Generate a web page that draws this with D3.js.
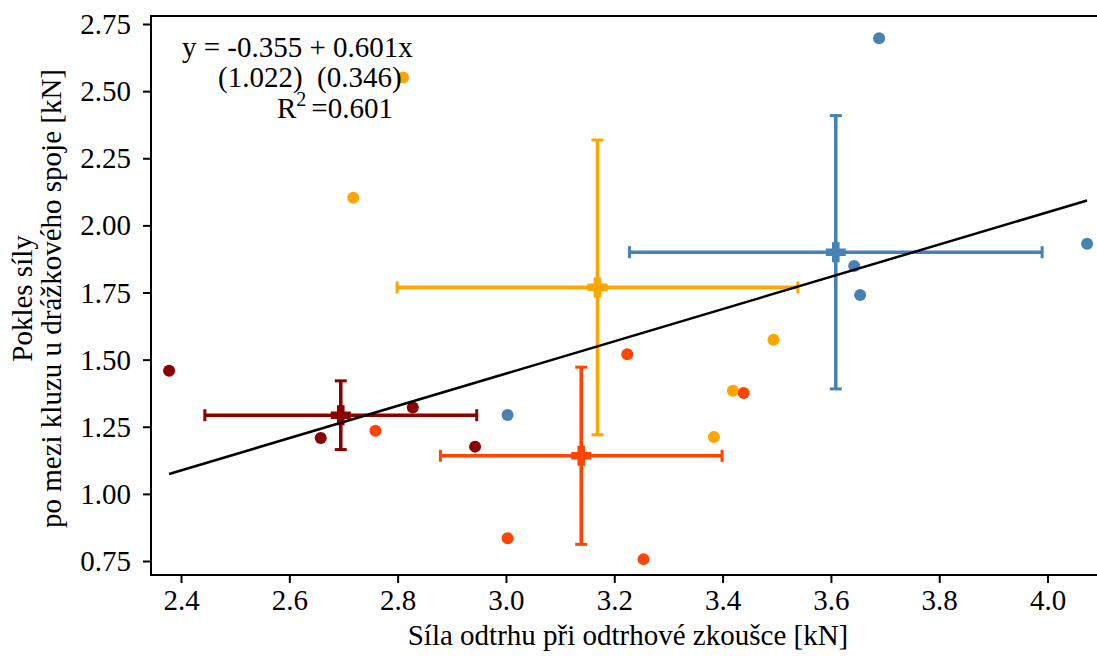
<!DOCTYPE html>
<html><head><meta charset="utf-8">
<script src="https://cdn.jsdelivr.net/npm/d3@7"></script>
<style>
body{margin:0;background:#fff;overflow:hidden}
text{font-family:"Liberation Serif","Times New Roman",serif}
</style>
</head><body>
<svg id="c" width="1097" height="660"></svg>
<script>
// ---- data ----
const groupColors = ["#4682B4", "#FFA500", "#FF4500", "#8B0000"];
const blueX   = [3.689, 4.073, 3.643, 3.654, 3.003];
const blueY   = [2.697, 1.932, 1.849, 1.741, 1.294];
const orangeX = [2.810, 2.718, 3.494, 3.419, 3.384];
const orangeY = [2.551, 2.103, 1.574, 1.384, 1.212];
const redX    = [3.224, 3.439, 2.759, 3.003, 3.254];
const redY    = [1.520, 1.376, 1.235, 0.835, 0.757];
const darkX   = [2.378, 2.828, 2.658, 2.943];
const darkY   = [1.459, 1.322, 1.208, 1.176];
const meanX = [3.609, 3.169, 3.139, 2.695];
const meanY = [1.900, 1.769, 1.142, 1.293];
const sdX   = [0.381, 0.370, 0.260, 0.251];
const sdY   = [0.509, 0.549, 0.330, 0.128];
const intercept = -0.355, slope = 0.601;
const eqLines = ["y = -0.355 + 0.601x", "(1.022)  (0.346)"];
const r2Text = "=0.601";
const xTicks = [2.4, 2.6, 2.8, 3.0, 3.2, 3.4, 3.6, 3.8, 4.0];
const yTicks = [0.75, 1.00, 1.25, 1.50, 1.75, 2.00, 2.25, 2.50, 2.75];
const xLabel = "Síla odtrhu při odtrhové zkoušce [kN]";
const yLabel = ["Pokles síly", "po mezi kluzu u drážkového spoje [kN]"];

const xs = [blueX, orangeX, redX, darkX];
const ys = [blueY, orangeY, redY, darkY];

// ---- layout ----
const L = 151, R = 1105, T = 16, B = 575;
const FS = 29;
const svg = d3.select("#c");
const x = d3.scaleLinear().domain([2.3446, 4.1061]).range([L, R]);
const y = d3.scaleLinear().domain([0.6979, 2.7798]).range([B, T]);

// axes
const xAxis = svg.append("g").attr("transform", `translate(0,${B})`)
  .call(d3.axisBottom(x).tickValues(xTicks).tickFormat(d3.format(".1f")).tickSize(8).tickSizeOuter(0));
const yAxis = svg.append("g").attr("transform", `translate(${L},0)`)
  .call(d3.axisLeft(y).tickValues(yTicks).tickFormat(d3.format(".2f")).tickSize(8).tickSizeOuter(0).tickPadding(12));
[xAxis, yAxis].forEach(g => {
  g.select(".domain").remove();
  g.selectAll(".tick line").attr("stroke", "#000").attr("stroke-width", 2);
  g.selectAll(".tick text").attr("fill", "#000").style("font-size", FS + "px")
    .style("font-family", '"Liberation Serif", serif');
});
xAxis.selectAll(".tick text").attr("y", 35).attr("dy", 0);
yAxis.selectAll(".tick text").attr("dy", "0.33em");

// frame
svg.append("rect").attr("x", L).attr("y", T).attr("width", R - L).attr("height", B - T)
  .attr("fill", "none").attr("stroke", "#000").attr("stroke-width", 2);

// groups
const cap = 6;
groupColors.forEach((col, i) => {
  const g = svg.append("g");
  g.selectAll("circle").data(d3.zip(xs[i], ys[i])).join("circle")
    .attr("cx", d => x(d[0])).attr("cy", d => y(d[1])).attr("r", 6).attr("fill", col);
  const mx = meanX[i], my = meanY[i], ex = sdX[i], ey = sdY[i];
  const eb = svg.append("g").attr("stroke", col).attr("stroke-width", 3.6).attr("fill", "none");
  eb.append("line").attr("x1", x(mx - ex)).attr("x2", x(mx + ex)).attr("y1", y(my)).attr("y2", y(my));
  eb.append("line").attr("x1", x(mx)).attr("x2", x(mx)).attr("y1", y(my - ey)).attr("y2", y(my + ey));
  eb.append("line").attr("x1", x(mx - ex)).attr("x2", x(mx - ex)).attr("y1", y(my) - cap).attr("y2", y(my) + cap).attr("stroke-width", 3);
  eb.append("line").attr("x1", x(mx + ex)).attr("x2", x(mx + ex)).attr("y1", y(my) - cap).attr("y2", y(my) + cap).attr("stroke-width", 3);
  eb.append("line").attr("x1", x(mx) - cap).attr("x2", x(mx) + cap).attr("y1", y(my - ey)).attr("y2", y(my - ey)).attr("stroke-width", 3);
  eb.append("line").attr("x1", x(mx) - cap).attr("x2", x(mx) + cap).attr("y1", y(my + ey)).attr("y2", y(my + ey)).attr("stroke-width", 3);
  // filled plus marker
  const h = 10, t = 3.8, cx = x(mx), cy = y(my);
  const p = `M${cx - t},${cy - h}H${cx + t}V${cy - t}H${cx + h}V${cy + t}H${cx + t}V${cy + h}H${cx - t}V${cy + t}H${cx - h}V${cy - t}H${cx - t}Z`;
  svg.append("path").attr("d", p).attr("fill", col);
});

// regression line
const allX = [].concat(...xs);
const x0 = d3.min(allX), x1 = d3.max(allX);
svg.append("line").attr("x1", x(x0)).attr("y1", y(intercept + slope * x0))
  .attr("x2", x(x1)).attr("y2", y(intercept + slope * x1))
  .attr("stroke", "#000").attr("stroke-width", 2.5);

// equation text
const eq = svg.append("g").style("font-size", FS + "px").attr("fill", "#000");
eq.append("text").attr("x", 182).attr("y", 57).text(eqLines[0]);
eq.append("text").attr("x", 218).attr("y", 87).attr("xml:space", "preserve").style("white-space", "pre").text(eqLines[1]);
const r2 = eq.append("text").attr("x", 277).attr("y", 118);
r2.append("tspan").text("R");
r2.append("tspan").attr("dy", -12).style("font-size", "20px").text("2");
r2.append("tspan").attr("dy", 12).attr("dx", 5).text(r2Text);

// axis labels
svg.append("text").attr("x", 628).attr("y", 645).attr("text-anchor", "middle")
  .style("font-size", FS + "px").text(xLabel);
const yl = svg.append("g").attr("transform", `translate(0,${(T + B) / 2 + 3}) rotate(-90)`);
yl.append("text").attr("x", 0).attr("y", 32).attr("text-anchor", "middle").style("font-size", FS + "px").text(yLabel[0]);
yl.append("text").attr("x", 0).attr("y", 61).attr("text-anchor", "middle").style("font-size", FS + "px").text(yLabel[1]);
</script>
</body></html>
